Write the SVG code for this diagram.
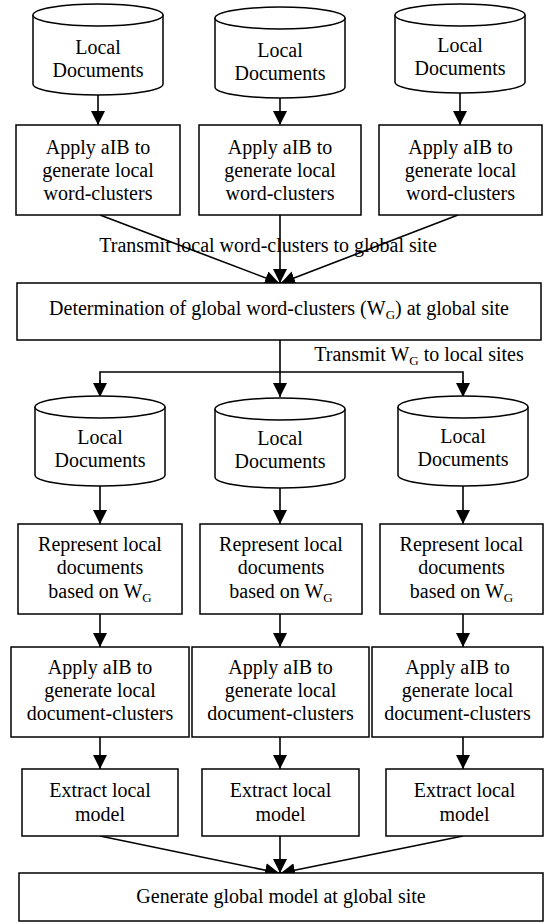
<svg xmlns="http://www.w3.org/2000/svg" width="544" height="924" viewBox="0 0 544 924">
<style>
.box{fill:#fff;stroke:#000;stroke-width:1.5}
.cyl{fill:#fff;stroke:#000;stroke-width:1.5}
.t{font-family:"Liberation Serif","Times New Roman",serif;font-size:20px;fill:#000;text-anchor:middle}
.s{font-size:13px}
.c{fill:none;stroke:#000;stroke-width:1.6}
</style>
<defs>
<marker id="ah" markerUnits="userSpaceOnUse" markerWidth="14" markerHeight="14" refX="14" refY="7" orient="auto">
<path d="M0,0 L14,7 L0,14 Z" fill="#000"/>
</marker>
</defs>
<g id="connectors">
<line class="c" x1="98" y1="95" x2="98" y2="125" marker-end="url(#ah)"/>
<line class="c" x1="280" y1="98" x2="280" y2="125" marker-end="url(#ah)"/>
<line class="c" x1="460" y1="93" x2="460" y2="125" marker-end="url(#ah)"/>
<line class="c" x1="100" y1="215" x2="279" y2="283" marker-end="url(#ah)"/>
<line class="c" x1="280" y1="215" x2="280" y2="283" marker-end="url(#ah)"/>
<line class="c" x1="458" y1="215" x2="281" y2="283" marker-end="url(#ah)"/>
<line class="c" x1="280" y1="340" x2="280" y2="397" marker-end="url(#ah)"/>
<polyline class="c" points="100,397 100,372 463,372 463,397"/>
<line class="c" x1="100" y1="380" x2="100" y2="397" marker-end="url(#ah)"/>
<line class="c" x1="463" y1="380" x2="463" y2="397" marker-end="url(#ah)"/>
<line class="c" x1="100" y1="486" x2="100" y2="524" marker-end="url(#ah)"/>
<line class="c" x1="280" y1="488" x2="280" y2="524" marker-end="url(#ah)"/>
<line class="c" x1="463" y1="486" x2="463" y2="524" marker-end="url(#ah)"/>
<line class="c" x1="100" y1="614" x2="100" y2="647" marker-end="url(#ah)"/>
<line class="c" x1="280" y1="614" x2="280" y2="647" marker-end="url(#ah)"/>
<line class="c" x1="463" y1="614" x2="463" y2="647" marker-end="url(#ah)"/>
<line class="c" x1="100" y1="737" x2="100" y2="769" marker-end="url(#ah)"/>
<line class="c" x1="280" y1="737" x2="280" y2="769" marker-end="url(#ah)"/>
<line class="c" x1="463" y1="737" x2="463" y2="769" marker-end="url(#ah)"/>
<line class="c" x1="100" y1="836" x2="279" y2="873" marker-end="url(#ah)"/>
<line class="c" x1="280" y1="836" x2="280" y2="873" marker-end="url(#ah)"/>
<line class="c" x1="463" y1="836" x2="281" y2="873" marker-end="url(#ah)"/>
<text class="t" x="268" y="252">Transmit local word-clusters to global site</text>
<text class="t" x="419" y="361">Transmit W<tspan class="s" dy="4">G</tspan><tspan dy="-4"> to local sites</tspan></text>
</g>
<g id="cyl1">
<path class="cyl" d="M33,15 A65,11 0 0 1 163,15 V84 A65,11 0 0 1 33,84 Z"/>
<path class="cyl" d="M33,15 A65,11 0 0 0 163,15"/>
<text class="t" x="98" y="54">Local</text><text class="t" x="98" y="77">Documents</text>
</g>
<g id="cyl2">
<path class="cyl" d="M215,18 A65,11 0 0 1 345,18 V87 A65,11 0 0 1 215,87 Z"/>
<path class="cyl" d="M215,18 A65,11 0 0 0 345,18"/>
<text class="t" x="280" y="57">Local</text><text class="t" x="280" y="80">Documents</text>
</g>
<g id="cyl3">
<path class="cyl" d="M395,15 A65,11 0 0 1 525,15 V82 A65,11 0 0 1 395,82 Z"/>
<path class="cyl" d="M395,15 A65,11 0 0 0 525,15"/>
<text class="t" x="460" y="52">Local</text><text class="t" x="460" y="75">Documents</text>
</g>
<g id="box1">
<rect class="box" x="16" y="125" width="164" height="90"/>
<text class="t" x="98" y="154">Apply aIB to</text><text class="t" x="98" y="177">generate local</text><text class="t" x="98" y="200">word-clusters</text>
</g>
<g id="box2">
<rect class="box" x="199" y="125" width="162" height="90"/>
<text class="t" x="280" y="154">Apply aIB to</text><text class="t" x="280" y="177">generate local</text><text class="t" x="280" y="200">word-clusters</text>
</g>
<g id="box3">
<rect class="box" x="379" y="125" width="163" height="90"/>
<text class="t" x="460.5" y="154">Apply aIB to</text><text class="t" x="460.5" y="177">generate local</text><text class="t" x="460.5" y="200">word-clusters</text>
</g>
<g id="global-words">
<rect class="box" x="17" y="283" width="524" height="57"/>
<text class="t" x="279" y="315">Determination of global word-clusters (W<tspan class="s" dy="4">G</tspan><tspan dy="-4">) at global site</tspan></text>
</g>
<g id="cyl4">
<path class="cyl" d="M35,407 A65,11 0 0 1 165,407 V475 A65,11 0 0 1 35,475 Z"/>
<path class="cyl" d="M35,407 A65,11 0 0 0 165,407"/>
<text class="t" x="100" y="444">Local</text><text class="t" x="100" y="467">Documents</text>
</g>
<g id="cyl5">
<path class="cyl" d="M215,409 A65,11 0 0 1 345,409 V477 A65,11 0 0 1 215,477 Z"/>
<path class="cyl" d="M215,409 A65,11 0 0 0 345,409"/>
<text class="t" x="280" y="445">Local</text><text class="t" x="280" y="468">Documents</text>
</g>
<g id="cyl6">
<path class="cyl" d="M398,407 A65,11 0 0 1 528,407 V475 A65,11 0 0 1 398,475 Z"/>
<path class="cyl" d="M398,407 A65,11 0 0 0 528,407"/>
<text class="t" x="463" y="443">Local</text><text class="t" x="463" y="466">Documents</text>
</g>
<g id="box4">
<rect class="box" x="18" y="524" width="164" height="90"/>
<text class="t" x="100" y="551">Represent local</text><text class="t" x="100" y="574">documents</text>
<text class="t" x="100" y="598">based on W<tspan class="s" dy="4">G</tspan></text>
</g>
<g id="box5">
<rect class="box" x="200" y="524" width="162" height="90"/>
<text class="t" x="281" y="551">Represent local</text><text class="t" x="281" y="574">documents</text>
<text class="t" x="281" y="598">based on W<tspan class="s" dy="4">G</tspan></text>
</g>
<g id="box6">
<rect class="box" x="380" y="524" width="163" height="90"/>
<text class="t" x="461.5" y="551">Represent local</text><text class="t" x="461.5" y="574">documents</text>
<text class="t" x="461.5" y="598">based on W<tspan class="s" dy="4">G</tspan></text>
</g>
<g id="box7">
<rect class="box" x="11" y="647" width="178" height="90"/>
<text class="t" x="100" y="674">Apply aIB to</text><text class="t" x="100" y="697">generate local</text><text class="t" x="100" y="720">document-clusters</text>
</g>
<g id="box8">
<rect class="box" x="192" y="647" width="177" height="90"/>
<text class="t" x="280.5" y="674">Apply aIB to</text><text class="t" x="280.5" y="697">generate local</text><text class="t" x="280.5" y="720">document-clusters</text>
</g>
<g id="box9">
<rect class="box" x="372" y="647" width="171" height="90"/>
<text class="t" x="457.5" y="674">Apply aIB to</text><text class="t" x="457.5" y="697">generate local</text><text class="t" x="457.5" y="720">document-clusters</text>
</g>
<g id="box10">
<rect class="box" x="22" y="769" width="156" height="67"/>
<text class="t" x="100" y="797">Extract local</text><text class="t" x="100" y="821">model</text>
</g>
<g id="box11">
<rect class="box" x="202" y="769" width="157" height="67"/>
<text class="t" x="280.5" y="797">Extract local</text><text class="t" x="280.5" y="821">model</text>
</g>
<g id="box12">
<rect class="box" x="386" y="769" width="157" height="67"/>
<text class="t" x="464.5" y="797">Extract local</text><text class="t" x="464.5" y="821">model</text>
</g>
<g id="global-model">
<rect class="box" x="19" y="873" width="524" height="48"/>
<text class="t" x="281" y="903">Generate global model at global site</text>
</g>
</svg>
